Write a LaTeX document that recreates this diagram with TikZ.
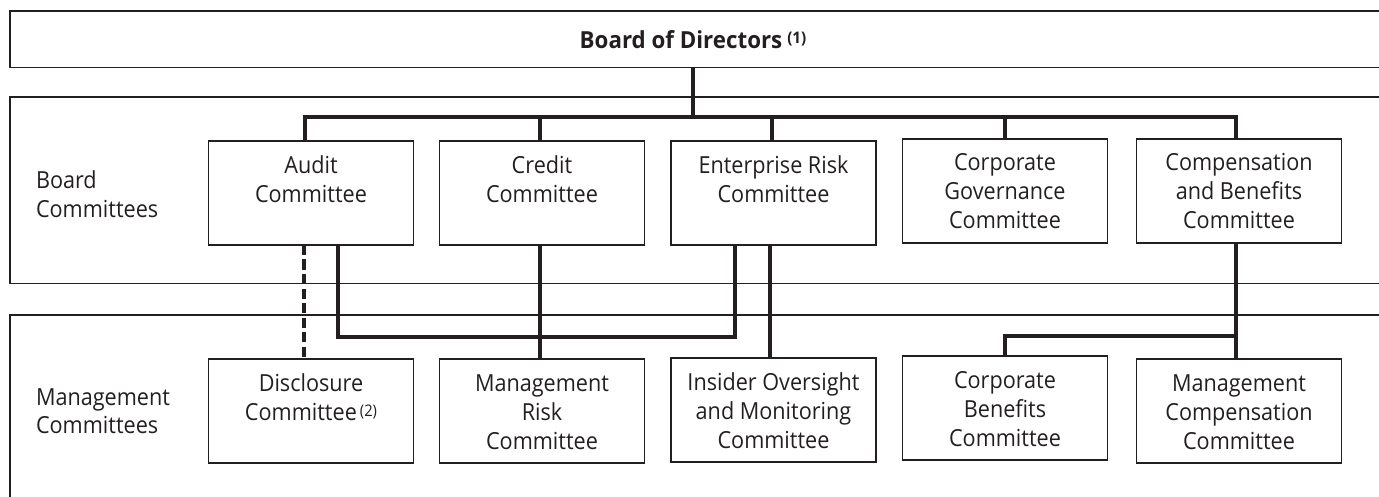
\documentclass[tikz,border=0pt]{standalone}
\usepackage{fontspec}
\setmainfont{Open Sans}[FakeStretch=0.92]
\newfontfamily\boldfam{Open Sans}[FakeStretch=0.95]
\newcommand\mt[1]{\parbox[t]{200pt}{\centering #1}}
\definecolor{ink}{HTML}{231F20}
\begin{document}
\begin{tikzpicture}[x=1pt,y=-1pt,
  every node/.style={inner sep=0pt, outer sep=0pt, text=ink},
  frame/.style={draw=ink, line width=1.3pt},
  cbox/.style={draw=ink, line width=1.3pt, minimum width=205pt, minimum height=104pt, anchor=north},
  txt/.style={font=\fontsize{23.5}{28.8}\selectfont, anchor=base},
  conn/.style={draw=ink, line width=4pt},
  dconn/.style={conn, dash pattern=on 10pt off 4.5pt}]
\useasboundingbox (0,0) rectangle (1379,497);
\clip (0,0) rectangle (1379,497);
% frames
\node[frame, anchor=north west, minimum width=1390pt, minimum height=56.5pt] (board) at (10,11) {};
\node[txt] (boardtxt) at (693,48.3) {\boldfam\bfseries Board of Directors\kern5pt\raisebox{4.5pt}{\fontsize{16}{16}\selectfont(1)}};
\draw[frame] (10,97) rectangle (1400,283.5);
\draw[frame] (10,315) rectangle (1400,520);
% side labels
\node[txt, anchor=base west] (bclabel) at (36,189) {\parbox[t]{150pt}{\raggedright Board\\Committees}};
\node[txt, anchor=base west] (mclabel) at (36,405) {\parbox[t]{150pt}{\raggedright Management\\Committees}};
% board committees
\node[cbox] (audit) at (311,141) {};
\node[cbox] (credit) at (542,141) {};
\node[cbox] (ent) at (773.5,141) {};
\node[cbox] (cg) at (1005,139) {};
\node[cbox] (comp) at (1239,139) {};
\node[txt] (audit-t) at ([yshift=-32.5pt]audit.north) {\mt{Audit\\Committee}};
\node[txt] (credit-t) at ([yshift=-32.5pt]credit.north) {\mt{Credit\\Committee}};
\node[txt] (ent-t) at ([yshift=-32.5pt]ent.north) {\mt{Enterprise Risk\\Committee}};
\node[txt] (cg-t) at ([yshift=-31.5pt]cg.north) {\mt{Corporate\\Governance\\Committee}};
\node[txt] (comp-t) at ([yshift=-31.5pt]comp.north) {\mt{Compensation\\and Benefits\\Committee}};
% management committees
\node[cbox] (disc) at (311,359) {};
\node[cbox] (mrisk) at (542,359) {};
\node[cbox] (insider) at (773.5,358) {};
\node[cbox] (cb) at (1005,356) {};
\node[cbox] (mc) at (1239,359) {};
\node[txt] (disc-t) at ([yshift=-32.5pt]disc.north) {\mt{Disclosure\\Committee\kern3pt\raisebox{4pt}{\fontsize{16}{16}\selectfont(2)}}};
\node[txt] (mrisk-t) at ([yshift=-32.5pt]mrisk.north) {\mt{Management\\Risk\\Committee}};
\node[txt] (insider-t) at ([yshift=-32.5pt]insider.north) {\mt{Insider Oversight\\and Monitoring\\Committee}};
\node[txt] (cb-t) at ([yshift=-32.5pt]cb.north) {\mt{Corporate\\Benefits\\Committee}};
\node[txt] (mc-t) at ([yshift=-32.5pt]mc.north) {\mt{Management\\Compensation\\Committee}};
% connectors
\coordinate (bus) at (692.7,117);
\draw[conn] (board.south -| bus) -- (bus);
\draw[conn] ([xshift=-6pt]audit.north) |- (bus) -| ([xshift=-3pt]comp.north);
\draw[conn] ([xshift=-2pt]credit.north) -- ([xshift=-2pt]credit.north |- bus);
\draw[conn] ([xshift=-2pt]ent.north) -- ([xshift=-2pt]ent.north |- bus);
\draw[conn] (cg.north) -- (cg.north |- bus);
\draw[dconn] ([xshift=-7pt]audit.south) -- ([xshift=-7pt]disc.north);
\coordinate (lowbus) at (540,337);
\draw[conn] ([xshift=27pt]audit.south) |- (lowbus) -| ([xshift=-38.5pt]ent.south);
\draw[conn] ([xshift=-2pt]credit.south) -- ([xshift=-2pt]mrisk.north);
\draw[conn] ([xshift=-3.5pt]ent.south) -- ([xshift=-3.5pt]insider.north);
\draw[conn] ([xshift=-3pt]comp.south) -- ([xshift=-3pt]mc.north);
\coordinate (branch) at (1236,336);
\draw[conn] (branch) -| (cb.north);
\end{tikzpicture}
\end{document}
